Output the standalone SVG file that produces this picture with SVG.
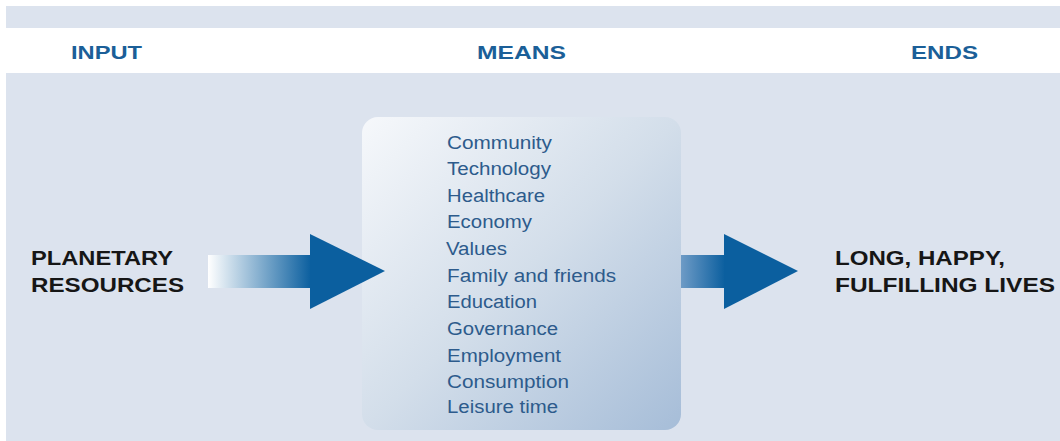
<svg xmlns="http://www.w3.org/2000/svg" width="1060" height="441" viewBox="0 0 1060 441">
  <defs>
    <style>
      text { font-family: "Liberation Sans", Arial, sans-serif; }
      .head { font-weight: bold; font-size: 19px; fill: #1b5f98; }
      .big { font-weight: bold; font-size: 21px; fill: #161616; }
      .item { font-size: 18px; fill: #2d5b8c; }
    </style>
    <linearGradient id="boxFill" x1="0" y1="0" x2="1" y2="1">
      <stop offset="0" stop-color="#f6f8fb"/>
      <stop offset="0.5" stop-color="#d3deea"/>
      <stop offset="1" stop-color="#a6bdd8"/>
    </linearGradient>
    <linearGradient id="shaftL" x1="0" y1="0" x2="1" y2="0">
      <stop offset="0" stop-color="#ffffff"/>
      <stop offset="1" stop-color="#0b5f9f"/>
    </linearGradient>
    <linearGradient id="shaftR" x1="0" y1="0" x2="1" y2="0">
      <stop offset="0" stop-color="#6e9bc6"/>
      <stop offset="1" stop-color="#0b5f9f"/>
    </linearGradient>
  </defs>

  <!-- background bands -->
  <rect x="0" y="0" width="1060" height="441" fill="#ffffff"/>
  <rect x="6" y="6" width="1054" height="22" fill="#dce3ee"/>
  <rect x="6" y="73" width="1054" height="368" fill="#dce3ee"/>

  <!-- column headings -->
  <g id="headings">
    <text class="head" x="71" y="59" textLength="71" lengthAdjust="spacingAndGlyphs">INPUT</text>
    <text class="head" x="477" y="59" textLength="89" lengthAdjust="spacingAndGlyphs">MEANS</text>
    <text class="head" x="911" y="59" textLength="67" lengthAdjust="spacingAndGlyphs">ENDS</text>
  </g>

  <!-- input node -->
  <g id="input">
    <text class="big" x="31" y="265" textLength="142" lengthAdjust="spacingAndGlyphs">PLANETARY</text>
    <text class="big" x="31" y="292" textLength="153" lengthAdjust="spacingAndGlyphs">RESOURCES</text>
  </g>

  <!-- means box -->
  <g id="means">
    <rect x="362" y="117" width="319" height="313" rx="16" fill="url(#boxFill)"/>
    <text class="item" x="447" y="149" textLength="105" lengthAdjust="spacingAndGlyphs">Community</text>
    <text class="item" x="447" y="175" textLength="104" lengthAdjust="spacingAndGlyphs">Technology</text>
    <text class="item" x="447" y="202" textLength="98" lengthAdjust="spacingAndGlyphs">Healthcare</text>
    <text class="item" x="447" y="228" textLength="85" lengthAdjust="spacingAndGlyphs">Economy</text>
    <text class="item" x="446" y="255" textLength="61" lengthAdjust="spacingAndGlyphs">Values</text>
    <text class="item" x="447" y="282" textLength="169" lengthAdjust="spacingAndGlyphs">Family and friends</text>
    <text class="item" x="447" y="308" textLength="90" lengthAdjust="spacingAndGlyphs">Education</text>
    <text class="item" x="447" y="335" textLength="111" lengthAdjust="spacingAndGlyphs">Governance</text>
    <text class="item" x="447" y="362" textLength="114" lengthAdjust="spacingAndGlyphs">Employment</text>
    <text class="item" x="447" y="388" textLength="122" lengthAdjust="spacingAndGlyphs">Consumption</text>
    <text class="item" x="447" y="413" textLength="111" lengthAdjust="spacingAndGlyphs">Leisure time</text>
  </g>

  <!-- ends node -->
  <g id="ends">
    <text class="big" x="835" y="265" textLength="170" lengthAdjust="spacingAndGlyphs">LONG, HAPPY,</text>
    <text class="big" x="835" y="292" textLength="220" lengthAdjust="spacingAndGlyphs">FULFILLING LIVES</text>
  </g>

  <!-- connectors -->
  <g id="connectors">
    <rect x="208" y="255" width="103" height="33" fill="url(#shaftL)"/>
    <polygon points="310,234 385,271 310,309" fill="#0b5f9f"/>
    <rect x="681" y="255" width="44" height="33" fill="url(#shaftR)"/>
    <polygon points="724,234 798,271 724,309" fill="#0b5f9f"/>
  </g>
</svg>
